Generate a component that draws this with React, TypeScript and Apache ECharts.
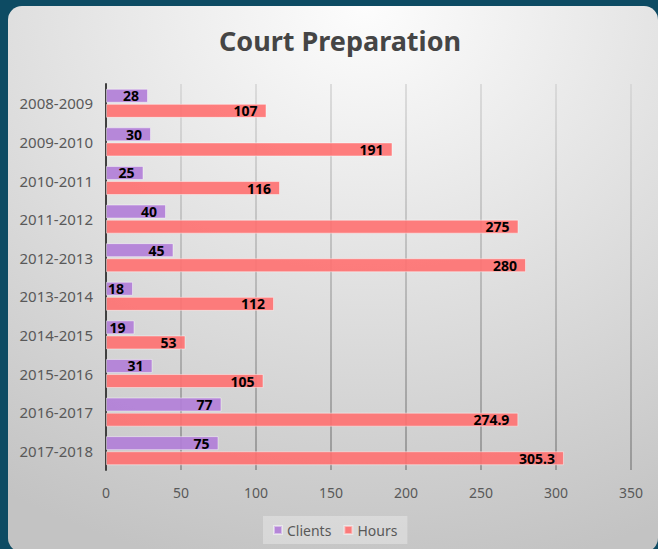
import React, { useEffect, useRef } from "react";
import * as echarts from "echarts";

const categories = [
  "2008-2009",
  "2009-2010",
  "2010-2011",
  "2011-2012",
  "2012-2013",
  "2013-2014",
  "2014-2015",
  "2015-2016",
  "2016-2017",
  "2017-2018",
];
const clients = [28, 30, 25, 40, 45, 18, 19, 31, 77, 75];
const hours = [107, 191, 116, 275, 280, 112, 53, 105, 274.9, 305.3];
const seriesNames = ["Clients", "Hours"];

const FONT = "'Noto Sans', 'Open Sans', sans-serif";

export default function App() {
  const ref = useRef<HTMLDivElement>(null);
  useEffect(() => {
    if (!ref.current) return;
    const chart = echarts.init(ref.current, null, { renderer: "svg" });
    const labelCfg = {
      show: true,
      position: "insideRight",
      distance: 9,
      color: "#000",
      fontWeight: "bold",
      fontSize: 14,
      fontFamily: FONT,
    };
    chart.setOption({
      animation: false,
      backgroundColor: "#0d4b63",
      graphic: [
        {
          type: "rect",
          z: -10,
          silent: true,
          shape: { x: 8, y: 6, width: 650, height: 546, r: 14 },
          style: {
            fill: new echarts.graphic.RadialGradient(0.55, 0.0, 1.05, [
              { offset: 0, color: "#fdfdfd" },
              { offset: 1, color: "#c3c3c3" },
            ]),
          },
        },
      ],
      title: {
        text: "Court Preparation",
        left: 335,
        textAlign: "center",
        top: 22,
        textStyle: {
          fontFamily: FONT,
          fontSize: 27,
          fontWeight: "bold",
          color: "#454545",
        },
      },
      legend: {
        data: seriesNames,
        bottom: 5,
        left: 263,
        icon: "rect",
        itemWidth: 8,
        itemHeight: 8,
        itemGap: 12,
        backgroundColor: "rgba(255,255,255,0.3)",
        padding: [7, 10, 7, 10],
        textStyle: { fontFamily: FONT, fontSize: 14, color: "#595959" },
      },
      grid: { left: 106, right: 27, top: 84, bottom: 79, containLabel: false },
      xAxis: {
        type: "value",
        min: 0,
        max: 350,
        interval: 50,
        axisLine: { show: false },
        axisTick: { show: false },
        axisLabel: {
          fontFamily: FONT,
          fontSize: 14,
          color: "#595959",
          margin: 15,
        },
        splitLine: {
          show: true,
          lineStyle: {
            width: 1.5,
            color: new echarts.graphic.LinearGradient(
              0,
              84,
              0,
              470,
              [
                { offset: 0, color: "#d4d4d4" },
                { offset: 1, color: "#888888" },
              ],
              true
            ),
          },
        },
      },
      yAxis: {
        type: "category",
        data: categories,
        inverse: true,
        axisLine: { show: true, lineStyle: { color: "#404040", width: 2 } },
        axisTick: { show: false },
        axisLabel: {
          fontFamily: FONT,
          fontSize: 15,
          color: "#595959",
          margin: 13,
        },
      },
      series: [
        {
          name: seriesNames[0],
          type: "bar",
          data: clients,
          barWidth: 14,
          barGap: "8%",
          itemStyle: {
            color: "rgba(178,127,216,0.92)",
            borderColor: "rgba(255,255,255,0.45)",
            borderWidth: 1,
          },
          label: labelCfg,
        },
        {
          name: seriesNames[1],
          type: "bar",
          data: hours,
          barWidth: 14,
          barGap: "8%",
          itemStyle: {
            color: "rgba(255,112,112,0.9)",
            borderColor: "rgba(255,255,255,0.45)",
            borderWidth: 1,
          },
          label: labelCfg,
        },
      ],
    });
    return () => chart.dispose();
  }, []);
  return (
    <div
      ref={ref}
      style={{ position: "absolute", left: 0, top: 0, width: 658, height: 549 }}
    />
  );
}
